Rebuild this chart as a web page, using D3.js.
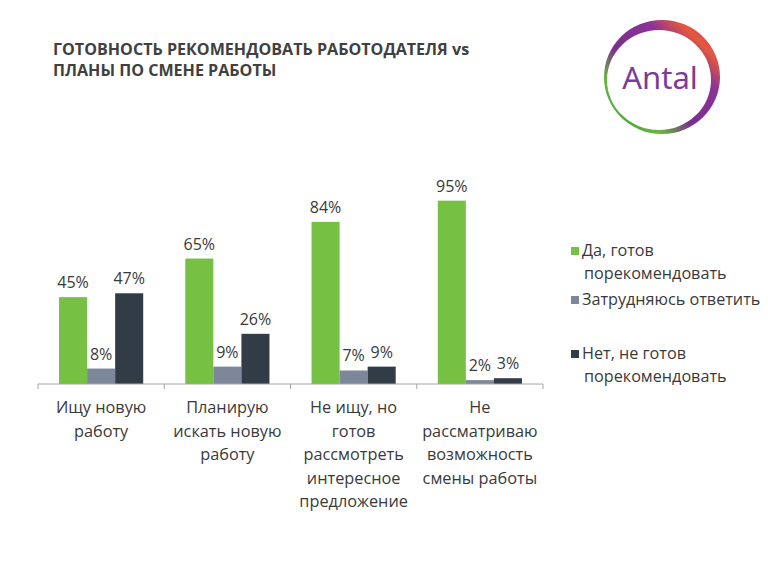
<!DOCTYPE html>
<html><head><meta charset="utf-8">
<script src="https://cdn.jsdelivr.net/npm/d3@7"></script>
<style>body{margin:0;background:#fff}svg{display:block}</style>
</head><body>
<script>
const categories = ["Ищу новую работу","Планирую искать новую работу","Не ищу, но готов рассмотреть интересное предложение","Не рассматриваю возможность смены работы"];
const categoryLines = [["Ищу новую","работу"],["Планирую","искать новую","работу"],["Не ищу, но","готов","рассмотреть","интересное","предложение"],["Не","рассматриваю","возможность","смены работы"]];
const seriesNames = ["Да, готов порекомендовать","Затрудняюсь ответить","Нет, не готов порекомендовать"];
const legendLines = [["Да, готов","порекомендовать"],["Затрудняюсь ответить"],["Нет, не готов","порекомендовать"]];
const yesValues = [45,65,84,95];
const unsureValues = [8,9,7,2];
const noValues = [47,26,9,3];
const colors = ["#76C043","#7C879A","#323C47"];
const titleLines = ["ГОТОВНОСТЬ РЕКОМЕНДОВАТЬ РАБОТОДАТЕЛЯ vs","ПЛАНЫ ПО СМЕНЕ РАБОТЫ"];

const W=768,H=576;
const svg=d3.select("body").append("svg").attr("width",W).attr("height",H);
const font="'Open Sans', 'Noto Sans', sans-serif";
const textCol="#3a3a3a";

// title
svg.append("text").attr("x",53).attr("y",55).attr("font-family",font).attr("font-weight","bold")
  .attr("font-size",16.1).attr("fill","#404040")
  .selectAll("tspan").data(titleLines).join("tspan").attr("x",53).attr("dy",(d,i)=>i?21:0).text(d=>d);

// scales
const x0=d3.scaleBand().domain(categories).range([38,543]).paddingInner(0).paddingOuter(0);
const x1=d3.scaleBand().domain(seriesNames).range([0,x0.bandwidth()]).paddingInner(0).paddingOuter(0.75);
const y=d3.scaleLinear().domain([0,100]).range([384,191]);

const seriesData=[yesValues,unsureValues,noValues];
const rows=[];
categories.forEach((c,i)=>seriesNames.forEach((s,j)=>rows.push({c,s,j,v:seriesData[j][i]})));

const g=svg.append("g");
g.selectAll("rect.bar").data(rows).join("rect").attr("class","bar")
  .attr("x",d=>x0(d.c)+x1(d.s)).attr("width",x1.bandwidth())
  .attr("y",d=>y(d.v)).attr("height",d=>y(0)-y(d.v)).attr("fill",d=>colors[d.j]);

g.selectAll("text.val").data(rows).join("text").attr("class","val")
  .attr("x",d=>x0(d.c)+x1(d.s)+x1.bandwidth()/2).attr("y",d=>y(d.v)-9)
  .attr("text-anchor","middle").attr("font-family",font).attr("font-size",16).attr("fill",textCol)
  .text(d=>d.v+"%");

// axis
const axis=d3.axisBottom(x0).tickSize(0).tickFormat("");
const ax=svg.append("g").attr("transform",`translate(0,${y(0)})`).call(axis);
ax.select(".domain").attr("stroke","#A6A6A6").attr("d",`M38,0H543`);
const bounds=categories.map(c=>x0(c)).concat([x0.range()[1]]);
ax.selectAll("line.b").data(bounds).join("line").attr("class","b")
  .attr("x1",d=>d).attr("x2",d=>d).attr("y1",0).attr("y2",5).attr("stroke","#A6A6A6");

// category labels
svg.selectAll("text.cat").data(categories).join("text").attr("class","cat")
  .attr("font-family",font).attr("font-size",16.3).attr("fill",textCol).attr("text-anchor","middle")
  .attr("y",413)
  .each(function(c,i){
    d3.select(this).selectAll("tspan").data(categoryLines[i]).join("tspan")
      .attr("x",x0(c)+x0.bandwidth()/2).attr("dy",(d,k)=>k?23.5:0).text(d=>d);
  });

// legend
const legY=[251,300,354];
const leg=svg.selectAll("g.leg").data(seriesNames).join("g").attr("class","leg");
leg.append("rect").attr("x",571).attr("y",(d,i)=>legY[i]-4).attr("width",8).attr("height",8).attr("fill",(d,i)=>colors[i]);
leg.append("text").attr("font-family",font).attr("font-size",16.2).attr("fill",textCol)
  .attr("y",(d,i)=>legY[i]+5)
  .each(function(d,i){
    d3.select(this).selectAll("tspan").data(legendLines[i]).join("tspan")
      .attr("x",(t,k)=>k?584:582).attr("dy",(t,k)=>k?23:0).text(t=>t);
  });

// logo
const defs=svg.append("defs");
const lg=defs.append("linearGradient").attr("id","ring").attr("x1","0").attr("y1","1").attr("x2","1").attr("y2","0");
[["0%","#2E9B3A"],["25%","#6AB63A"],["42%","#7A2E8E"],["68%","#8A3496"],["82%","#E8583A"],["100%","#8C2F9A"]]
  .forEach(s=>lg.append("stop").attr("offset",s[0]).attr("stop-color",s[1]));
const cx=662,cy=77;
svg.append("path").attr("fill","url(#ring)").attr("fill-rule","evenodd")
  .attr("d",`M${cx-58},${cy} a58,57 0 1,0 116,0 a58,57 0 1,0 -116,0 Z M${cx-55},${cy+3} a52,50 0 1,0 104,0 a52,50 0 1,0 -104,0 Z`);
svg.append("text").attr("x",cx-2).attr("y",cy+12).attr("text-anchor","middle").attr("font-family","'Noto Sans', sans-serif")
  .attr("font-size",31).attr("fill","#7A3C98").text("Antal");
</script>
</body></html>
